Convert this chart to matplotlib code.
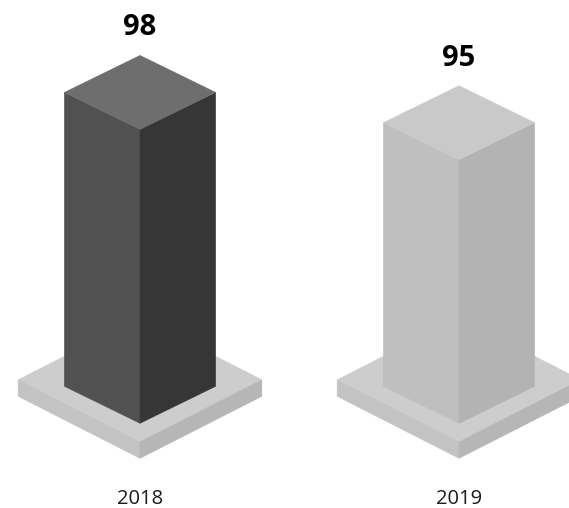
"""
Two isometric 3D columns standing on square plinths, one per year.
"""
import matplotlib.pyplot as plt
from matplotlib.patches import Polygon

years = ["2018", "2019"]
values = [98, 95]

# shading per column: (left face, right face, top face)
COLUMN_SHADES = [
    ("#515151", "#363636", "#6e6e6e"),
    ("#bfbfbf", "#b3b3b3", "#c9c9c9"),
]
PLINTH_SHADES = ("#c3c3c3", "#b6b6b6", "#cdcdcd")

# value where the front edge of each column meets the plinth
FLOOR = 68.9

# isometric geometry in data units (x: category slots, y: value units)
COL_HALF_W = 0.237     # half width of the column diamond
COL_HALF_H = 3.66      # half height of the column diamond
PLINTH_TOP = 73.2      # centre of the plinth's top diamond
PLINTH_HALF_W = 0.382
PLINTH_HALF_H = 6.14
PLINTH_DEPTH = 1.63


def add_face(ax, pts, color):
    ax.add_patch(Polygon(pts, closed=True, facecolor=color, edgecolor=color,
                         linewidth=0.4, joinstyle="miter"))


def draw_plinth(ax, cx):
    left, right, top = PLINTH_SHADES
    w, h, d, yc = PLINTH_HALF_W, PLINTH_HALF_H, PLINTH_DEPTH, PLINTH_TOP
    add_face(ax, [(cx, yc - h), (cx - w, yc), (cx, yc + h), (cx + w, yc)], top)
    add_face(ax, [(cx - w, yc), (cx, yc - h), (cx, yc - h - d), (cx - w, yc - d)], left)
    add_face(ax, [(cx, yc - h), (cx + w, yc), (cx + w, yc - d), (cx, yc - h - d)], right)


def draw_column(ax, cx, value, shades):
    left, right, top = shades
    w, h = COL_HALF_W, COL_HALF_H
    add_face(ax, [(cx - w, value + h), (cx, value), (cx, FLOOR), (cx - w, FLOOR + h)], left)
    add_face(ax, [(cx, value), (cx + w, value + h), (cx + w, FLOOR + h), (cx, FLOOR)], right)
    add_face(ax, [(cx, value), (cx - w, value + h), (cx, value + 2 * h), (cx + w, value + h)], top)


fig = plt.figure(figsize=(5.69, 5.08), dpi=100)
ax = fig.add_axes([0, 0, 1, 1])
ax.set_xlim(-0.4389, 1.3448)
ax.set_ylim(60.51, 110.81)
ax.axis("off")

for i, (year, val) in enumerate(zip(years, values)):
    draw_plinth(ax, i)
    draw_column(ax, i, val, COLUMN_SHADES[i])
    ax.text(i, val + 2 * COL_HALF_H + 2.0, f"{val}", ha="center", va="baseline",
            fontsize=21, fontweight="bold", family="Open Sans", color="#000000")
    ax.text(i, 60.9, year, ha="center", va="baseline",
            fontsize=14.5, family="Open Sans", color="#1a1a1a")

fig.savefig("out.png", dpi=100)
